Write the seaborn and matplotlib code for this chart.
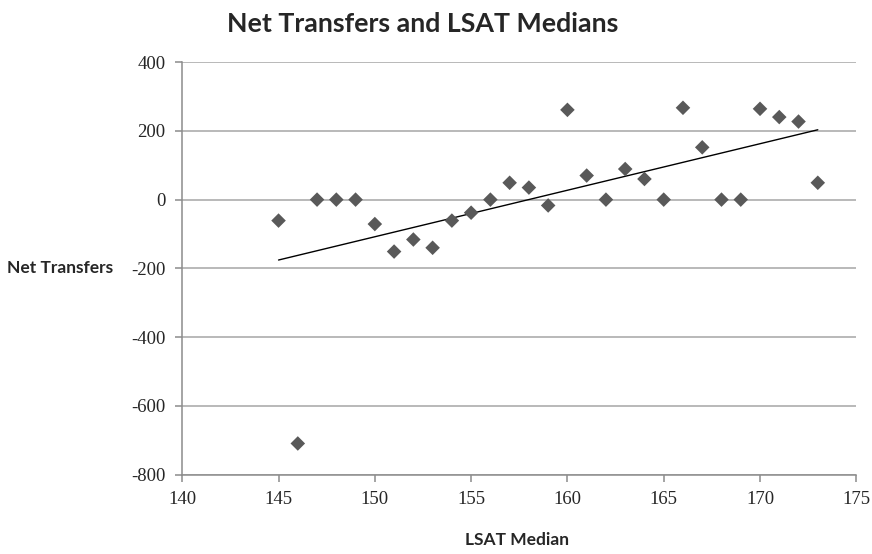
import numpy as np
import pandas as pd
import matplotlib
matplotlib.use("Agg")
import matplotlib.pyplot as plt
import seaborn as sns

# LSAT medians and net transfers
lsat_median = [145, 146, 147, 148, 149, 150, 151, 152, 153, 154, 155, 156, 157, 158,
               159, 160, 161, 162, 163, 164, 165, 166, 167, 168, 169, 170, 171, 172, 173]
net_transfers = [-61, -709, 0, 0, 0, -71, -151, -116, -140, -61, -38, 0, 49, 35,
                 -17, 261, 70, 0, 89, 60, 0, 267, 152, 0, 0, 264, 240, 227, 49]

x_ticks = [140, 145, 150, 155, 160, 165, 170, 175]
y_ticks = [-800, -600, -400, -200, 0, 200, 400]

df = pd.DataFrame({"LSAT Median": lsat_median, "Net Transfers": net_transfers})

sns.set_style("white")
plt.rcParams["font.family"] = ["DejaVu Sans"]
plt.rcParams["axes.unicode_minus"] = False

fig = plt.figure(figsize=(8.72, 5.54), dpi=100)
ax = fig.add_axes([0.209, 0.143, 0.773, 0.745])

# gridlines first
for yv in y_ticks:
    ax.axhline(yv, color="#a6a6a6", linewidth=1.1, zorder=0)

sns.scatterplot(data=df, x="LSAT Median", y="Net Transfers", marker="D", s=55,
                color="#595959", edgecolor="none", ax=ax, zorder=3)

# linear trendline
slope, intercept = np.polyfit(df["LSAT Median"], df["Net Transfers"], 1)
xs = np.array([min(lsat_median), max(lsat_median)])
ax.plot(xs, slope * xs + intercept, color="black", linewidth=1.0, zorder=2)

ax.set_xlim(140, 175)
ax.set_ylim(-800, 400)
ax.set_xticks(x_ticks)
ax.set_yticks(y_ticks)

for side in ["top", "right"]:
    ax.spines[side].set_visible(False)
for side in ["left", "bottom"]:
    ax.spines[side].set_color("#8c8c8c")
    ax.spines[side].set_linewidth(1.1)

ax.tick_params(axis="both", direction="out", length=5, width=1.1, color="#8c8c8c",
               left=True, bottom=True, pad=7)
for lab in ax.get_xticklabels() + ax.get_yticklabels():
    lab.set_fontfamily("Liberation Serif")
    lab.set_fontsize(13.5)

ax.set_xlabel("")
ax.set_ylabel("")

fig.text(0.485, 0.957, "Net Transfers and LSAT Medians", ha="center", va="center",
         fontsize=19.3, fontweight="bold", family="Lato")
fig.text(0.069, 0.516, "Net Transfers", ha="center", va="center",
         fontsize=12.5, fontweight="bold", family="Lato")
fig.text(0.593, 0.025, "LSAT Median", ha="center", va="center",
         fontsize=12.5, fontweight="bold", family="Lato")

fig.savefig("out.png", dpi=100)
